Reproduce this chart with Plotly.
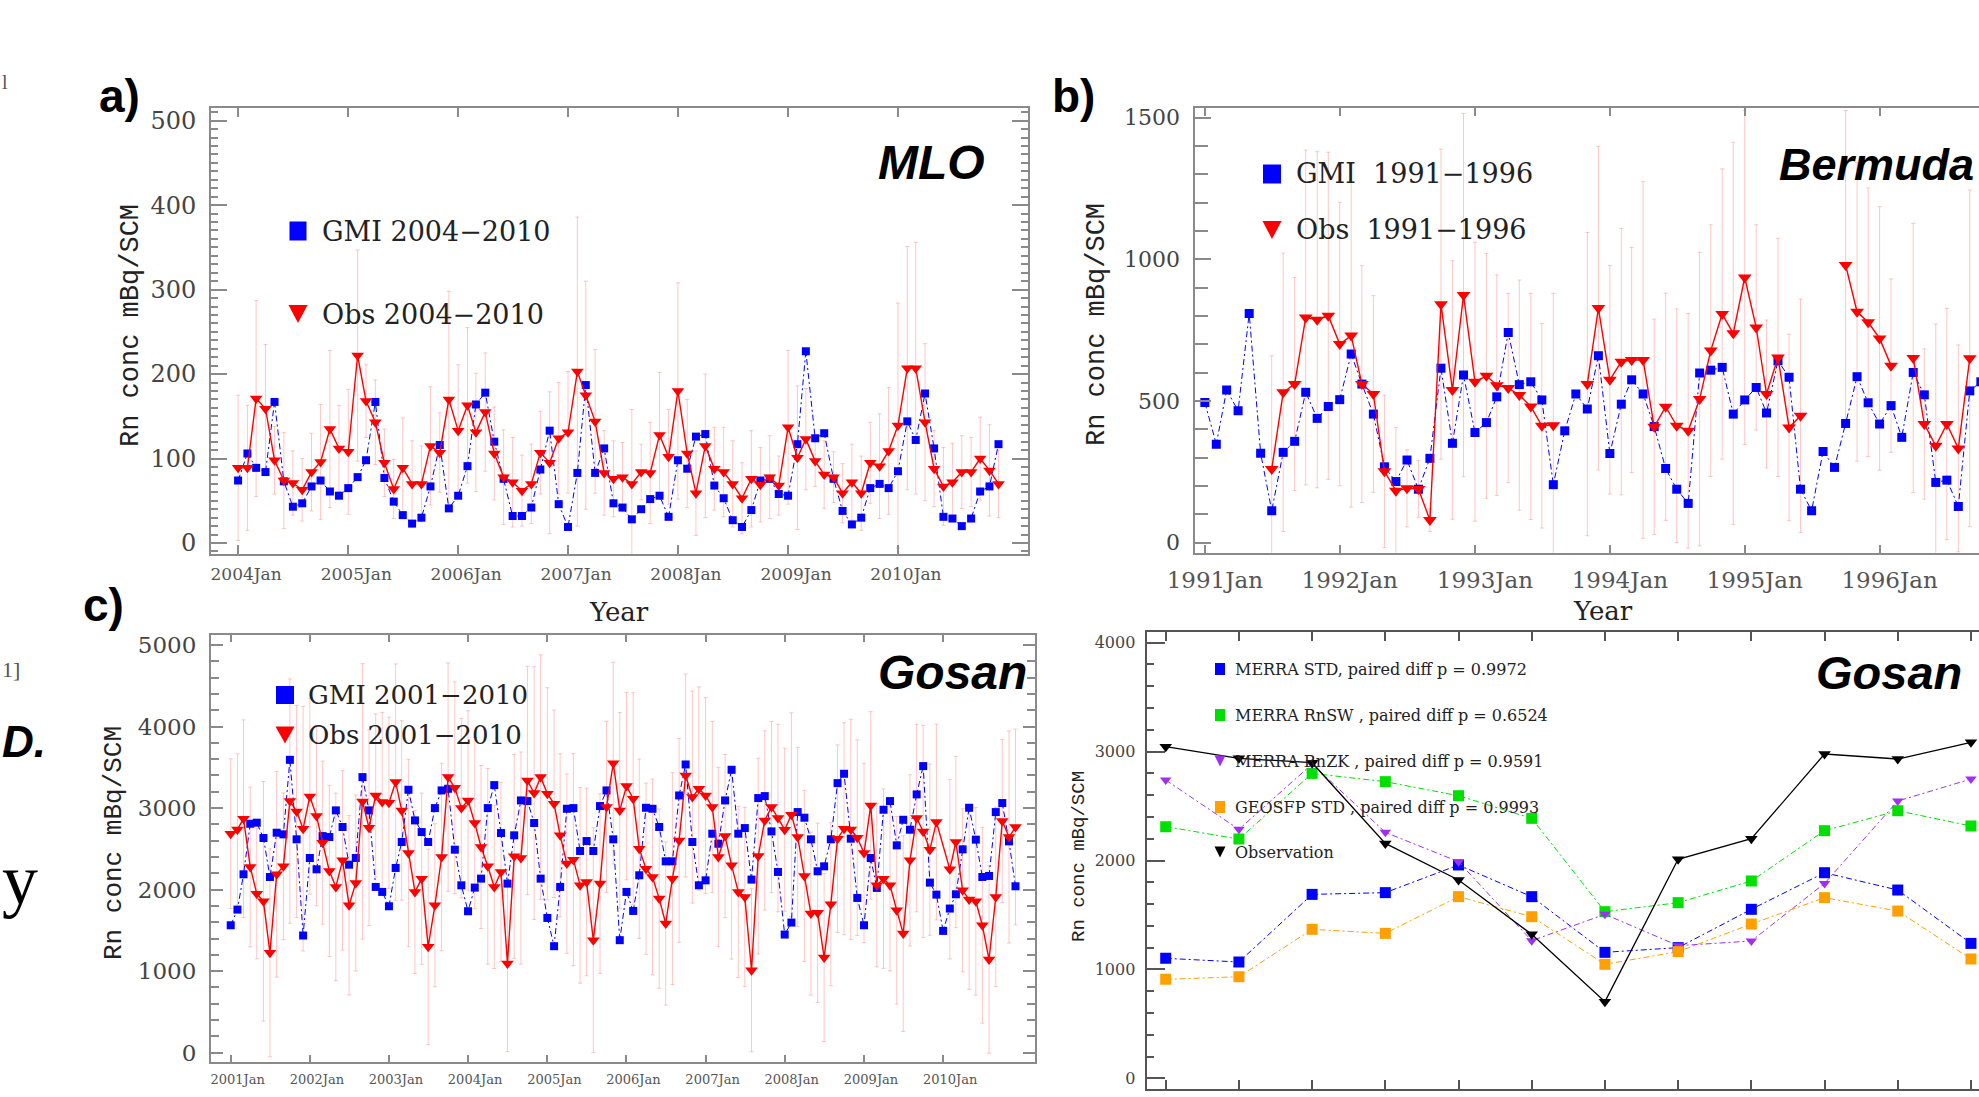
import plotly.graph_objects as go

W, H = 1979, 1097

# ---------------- data ----------------
mlo_months = [f"{y}-{m:02d}-01" for y in range(2004, 2011) for m in range(1, 13)]
mlo_ticks = [f"{y}-01-01" for y in range(2004, 2011)]
mlo_ticktext = [f"{y}Jan" for y in range(2004, 2011)]
mlo_gmi = [74, 106, 89, 84, 167, 73, 43, 47, 67, 74, 61, 56,
           65, 78, 98, 167, 77, 49, 33, 23, 30, 67, 116, 41,
           56, 91, 164, 178, 120, 76, 32, 32, 42, 87, 133, 46,
           19, 83, 187, 83, 112, 47, 42, 28, 40, 52, 56, 31,
           98, 88, 126, 129, 68, 53, 27, 19, 39, 74, 76, 58,
           56, 117, 227, 124, 130, 76, 38, 22, 30, 65, 70, 65,
           85, 144, 122, 177, 112, 31, 29, 20, 29, 61, 67, 117]
mlo_obs = [89, 89, 171, 159, 98, 74, 71, 63, 84, 96, 135, 112,
           108, 222, 168, 143, 95, 64, 89, 70, 70, 115, 107, 170,
           133, 163, 131, 155, 106, 78, 72, 62, 70, 107, 95, 124,
           131, 203, 175, 144, 83, 76, 78, 70, 84, 83, 128, 102,
           180, 106, 59, 115, 88, 84, 70, 53, 76, 69, 78, 68,
           137, 101, 123, 97, 81, 78, 59, 72, 59, 95, 91, 109,
           139, 207, 207, 143, 88, 67, 72, 84, 84, 100, 86, 70]
mlo_err = [86, 74, 116, 76, 40, 57, 38, 37, 46, 68, 93, 51,
           74, 125, 43, 50, 40, 35, 59, 51, 45, 70, 47, 128,
           78, 92, 70, 70, 55, 56, 53, 42, 47, 49, 84, 66,
           72, 183, 135, 85, 50, 45, 41, 88, 33, 60, 74, 56,
           128, 64, 50, 85, 49, 53, 51, 42, 57, 44, 49, 35,
           91, 85, 60, 30, 40, 30, 35, 45, 44, 48, 62, 75,
           145, 144, 149, 93, 45, 46, 46, 43, 41, 49, 54, 40]

bermuda_months = [f"{y}-{m:02d}-01" for y in range(1991, 1997) for m in range(1, 13)][:70]
bermuda_ticks = [f"{y}-01-01" for y in range(1991, 1997)]
bermuda_ticktext = [f"{y}Jan" for y in range(1991, 1997)]
bermuda_gmi = [495, 348, 539, 466, 809, 316, 113, 319, 358, 531, 439, 481,
               505, 666, 560, 454, 268, 216, 292, 189, 298, 616, 351, 592,
               389, 424, 515, 742, 558, 568, 504, 205, 395, 525, 472, 660,
               315, 489, 575, 525, 410, 262, 189, 139, 599, 609, 619, 454,
               504, 548, 458, 642, 584, 189, 113, 322, 266, 421, 586, 494,
               419, 484, 372, 601, 522, 213, 221, 128, 536, 568]
bermuda_obs = [None, None, None, None, None, None, 260, 531, 560, 795, 787, 801,
               701, 731, 560, 525, 252, 184, 192, 190, 80, 842, 539, 874,
               568, 589, 556, 546, 521, 481, 413, 415, None, None, 560, 828,
               575, 639, 645, 645, 409, 480, 413, 395, 507, 678, 807, 739,
               936, 760, 525, 654, 407, 448, None, None, None, 980, 815, 778,
               721, 625, None, 652, 419, 342, 419, 333, 651, None]
bermuda_err = [0, 0, 0, 0, 0, 0, 400, 491, 376, 591, 593, 577,
               500, 605, 418, 347, 269, 223, 136, 100, 40, 547, 456, 641,
               492, 432, 389, 334, 406, 399, 361, 465, 0, 0, 535, 571,
               403, 470, 397, 629, 380, 401, 412, 414, 518, 444, 512, 674,
               589, 362, 261, 420, 329, 412, 0, 0, 0, 545, 527, 474,
               465, 306, 0, 475, 265, 430, 408, 365, 594, 0]

gosan_months = [f"{y}-{m:02d}-01" for y in range(2001, 2011) for m in range(1, 13)]
gosan_ticks = [f"{y}-01-01" for y in range(2001, 2011)]
gosan_ticktext = [f"{y}Jan" for y in range(2001, 2011)]
gosan_gmi = [1563, 1755, 2188, 2808, 2821, 2633, 2155, 2698, 2678, 3592, 2617, 1437,
             2388, 2249, 2657, 2645, 2972, 2768, 2306, 2388, 3380, 2972, 2033, 1972,
             1796, 2266, 2584, 3225, 2849, 2706, 2584, 3000, 3217, 3237, 2490, 2053,
             1735, 2025, 2135, 3000, 3282, 2694, 2074, 2666, 3094, 3086, 2817, 2135,
             1653, 1306, 2033, 2992, 3000, 2474, 2596, 2474, 3025, 3217, 2617, 1380,
             1972, 1739, 2176, 3004, 2992, 2768, 2347, 2347, 3155, 3535, 2584, 2053,
             2114, 2686, 2563, 3094, 3470, 2686, 2755, 2123, 3123, 3147, 2714, 2217,
             1449, 1596, 2951, 2882, 2617, 2225, 2286, 2617, 3306, 3421, 2625, 1898,
             1563, 2388, 2021, 2980, 3086, 2543, 2857, 2735, 3168, 3515, 2086, 1939,
             1494, 1768, 1943, 2494, 3004, 2613, 2155, 2168, 2951, 3062, 2592, 2041]
gosan_obs = [2686, 2739, 2870, 2278, 1951, 1857, 1225, 2188, 2286, 3086, 2959, 2747,
             3143, 2902, 2576, 2229, 2033, 2359, 1808, 2082, 3082, 2759, 3155, 3074,
             3066, 3319, 2972, 2449, 1972, 2135, 1298, 1808, 2400, 3380, 3249, 3000,
             3094, 2817, 2523, 2286, 2033, 2217, 1094, 2408, 2388, 3339, 3184, 3380,
             3176, 3053, 2666, 2319, 2368, 2053, 2094, 1380, 2074, 3013, 3551, 2972,
             3270, 3115, 2502, 2257, 2155, 1890, 1584, 2135, 2604, 3400, 3135, 3237,
             3155, 3013, 2400, 2657, 2298, 1972, 1910, 1012, 2412, 2849, 3013, 2878,
             2735, 2919, 2645, 2168, 1706, 1715, 1167, 1821, 2625, 2747, 2739, 2637,
             2449, 3033, 2053, 2135, 2053, 1747, 1461, 2359, 2878, 2714, 2490, 2829,
             None, 2249, 2584, 1992, 1878, 1857, 1563, 1143, 1910, 2841, 2645, 2768]
gosan_err = [918, 927, 1212, 979, 800, 1470, 1275, 1261, 900, 1498, 1300, 1500,
             1200, 1100, 1000, 1050, 1150, 1100, 1100, 1080, 1690, 1200, 1000, 1100,
             1050, 1449, 1100, 1150, 1000, 1050, 1200, 1000, 1150, 1400, 1300, 1100,
             1100, 1050, 1000, 1200, 1000, 1100, 1080, 1250, 1300, 1400, 1550, 1500,
             1300, 1150, 1000, 1100, 1300, 1200, 1150, 1380, 1100, 1050, 1237, 1200,
             1150, 1300, 1100, 1050, 1200, 1100, 1000, 1300, 1250, 1245, 1300, 1250,
             1200, 1050, 1100, 1000, 1150, 1050, 1100, 1000, 1200, 1100, 1050, 1150,
             1000, 1250, 1100, 1050, 1000, 1100, 1030, 1000, 1150, 1300, 1350, 1200,
             1100, 1150, 1000, 1100, 1050, 1150, 1200, 1050, 1150, 1300, 1050, 1200,
             0, 1100, 1050, 1000, 1100, 1150, 1200, 1150, 1100, 1000, 1300, 1200]

clim_months = [1, 2, 3, 4, 5, 6, 7, 8, 9, 10, 11, 12]
merra_std = [1102, 1068, 1689, 1705, 1959, 1668, 1157, 1200, 1552, 1888, 1729, 1239]
merra_rnsw = [2311, 2197, 2800, 2724, 2595, 2387, 1530, 1613, 1812, 2274, 2457, 2317]
merra_rnzk = [2739, 2286, 2886, 2259, 1989, 1264, 1506, 1218, 1261, 1790, 2546, 2748]
geosfp_std = [909, 933, 1368, 1331, 1668, 1484, 1047, 1163, 1417, 1659, 1536, 1096]
observation = [3045, 2938, 2898, 2157, 1821, 1322, 704, 2011, 2200, 2978, 2932, 3085]

legend_d = ["MERRA STD, paired diff p = 0.9972",
            "MERRA RnSW , paired diff p = 0.6524",
            "MERRA RnZK , paired diff p = 0.9591",
            "GEOSFP STD , paired diff p = 0.9993",
            "Observation"]


def px(x):
    return x / W


def py(y):
    return 1 - y / H


fig = go.Figure()

ERRC = "rgba(255,120,120,0.42)"
BLUE = "#0000ff"
RED = "#ff0000"
SERIF = "DejaVu Serif"
AXC = "#8a8a8a"
DASHDOT = "6px,3px,2px,3px"


def add_panel(xa, ya, xs, gmi, obs, err, sq, tri, gap):
    xr, yr = "x" + xa, "y" + ya
    fig.add_trace(go.Scatter(x=xs, y=obs, mode="markers", xaxis=xr, yaxis=yr,
                             marker=dict(size=1, opacity=0), showlegend=False,
                             error_y=dict(type="data", array=err, color=ERRC,
                                          thickness=1, width=2)))
    fig.add_trace(go.Scatter(x=xs, y=gmi, mode="lines+markers", xaxis=xr, yaxis=yr,
                             line=dict(color=BLUE, width=1, dash=DASHDOT),
                             marker=dict(symbol="square", size=sq, color=BLUE),
                             showlegend=False))
    fig.add_trace(go.Scatter(x=xs, y=obs, mode="lines+markers", xaxis=xr, yaxis=yr,
                             line=dict(color=RED, width=1.4), connectgaps=gap,
                             marker=dict(symbol="triangle-down", size=tri, color=RED),
                             showlegend=False))


add_panel("", "", mlo_months, mlo_gmi, mlo_obs, mlo_err, 8, 11, False)
add_panel("2", "2", bermuda_months, bermuda_gmi, bermuda_obs, bermuda_err, 9, 12, False)
add_panel("3", "3", gosan_months, gosan_gmi, gosan_obs, gosan_err, 8, 11, True)

d_series = [(merra_std, "#0000ff", "square", 11, DASHDOT, 1),
            (merra_rnsw, "#00e000", "square", 11, DASHDOT, 1),
            (merra_rnzk, "#a030f0", "triangle-down", 10, DASHDOT, 1),
            (geosfp_std, "#ffa000", "square", 11, DASHDOT, 1),
            (observation, "#000000", "triangle-down", 11, "solid", 1.3)]
for vals, col, sym, sz, dash, lw in d_series:
    fig.add_trace(go.Scatter(x=clim_months, y=vals, mode="lines+markers",
                             xaxis="x4", yaxis="y4",
                             line=dict(color=col, width=lw, dash=dash),
                             marker=dict(symbol=sym, size=sz, color=col),
                             showlegend=False))


def xax(dom, rng, tv, tt, fs, standoff, shift, tlen, lc, anchor, typ="date",
        mirror="allticks", show=True):
    return dict(domain=dom, range=rng, tickvals=tv, ticktext=tt, ticks="inside",
                ticklen=tlen, tickwidth=1.5, tickcolor=lc, showline=True, linecolor=lc,
                linewidth=2, mirror=mirror, showgrid=False, zeroline=False, type=typ,
                anchor=anchor, automargin=False,
                tickfont=dict(family=SERIF, size=fs, color="#555"),
                ticklabelstandoff=standoff, ticklabelshift=shift, showticklabels=show)


def yax(dom, rng, dt, mdt, fs, tlen, mlen, lc, anchor, mirror="allticks", standoff=8):
    return dict(domain=dom, range=rng, tick0=0, dtick=dt, ticks="inside", ticklen=tlen,
                tickwidth=1.5, tickcolor=lc, showline=True, linecolor=lc, linewidth=2,
                mirror=mirror, showgrid=False, zeroline=False, anchor=anchor,
                automargin=False,
                minor=dict(dtick=mdt, ticks="inside", ticklen=mlen, tickcolor=lc, showgrid=False),
                tickfont=dict(family=SERIF, size=fs, color="#444"),
                ticklabelstandoff=standoff)


fig.update_layout(
    xaxis=xax([px(211), px(1028)], ["2003-10-03", "2011-03-09"], mlo_ticks, mlo_ticktext,
              17, 4, 8, 9, AXC, "y"),
    yaxis=yax([py(554), py(108)], [-13, 515], 100, 10, 24, 16, 7, AXC, "x"),
    xaxis2=xax([px(1194.5), px(1979)], ["1990-12-04", "1996-09-26"], bermuda_ticks,
               bermuda_ticktext, 23, 6, 10, 8, AXC, "y2"),
    yaxis2=yax([py(552.7), py(108.3)], [-35, 1533], 500, 100, 22, 16, 13, AXC, "x2",
               mirror=False),
    xaxis3=xax([px(211), px(1035)], ["2000-10-02", "2011-03-01"], gosan_ticks, gosan_ticktext,
               13, 4, 7, 7, AXC, "y3"),
    yaxis3=yax([py(1062), py(635)], [-114, 5123], 1000, 200, 23, 12, 8, AXC, "x3"),
    xaxis4=xax([px(1146.6), px(1979)], [0.739, 12.11], clim_months, [""] * 12,
               10, 6, 0, 9, "#555", "y4", typ="linear", show=False),
    yaxis4=yax([py(1089), py(631.7)], [-98, 4101], 1000, 200, 16, 18, 7, "#555", "x4",
               mirror=False, standoff=6),
)

ann = []


def text(x, y, s, size, family=SERIF, color="#222", xanchor="center", angle=0,
         weight="normal", style="normal"):
    ann.append(dict(x=px(x), y=py(y), xref="paper", yref="paper", text=s, showarrow=False,
                    xanchor=xanchor, yanchor="middle", textangle=angle,
                    font=dict(family=family, size=size, color=color, weight=weight, style=style)))


shapes = []


def sq_marker(cx, cy, w, h, col):
    shapes.append(dict(type="rect", xref="paper", yref="paper", x0=px(cx - w / 2),
                       x1=px(cx + w / 2), y0=py(cy + h / 2), y1=py(cy - h / 2),
                       fillcolor=col, line=dict(width=0)))


def tri_marker(cx, cy, w, h, col):
    path = (f"M {px(cx - w / 2)},{py(cy - h / 2)} L {px(cx + w / 2)},{py(cy - h / 2)} "
            f"L {px(cx)},{py(cy + h / 2)} Z")
    shapes.append(dict(type="path", xref="paper", yref="paper", path=path,
                       fillcolor=col, line=dict(width=0)))


# panel labels
text(119, 96, "a)", 46, "Liberation Sans", "#000", weight="bold")
text(1073, 96, "b)", 46, "Liberation Sans", "#000", weight="bold")
text(103, 605, "c)", 46, "Liberation Sans", "#000", weight="bold")
# site names
text(931, 162, "MLO", 48, "Liberation Sans", "#000", weight="bold", style="italic")
text(1976, 164, "Bermuda", 45, "Liberation Sans", "#000", xanchor="right",
     weight="bold", style="italic")
text(952, 672, "Gosan", 48, "Liberation Sans", "#000", weight="bold", style="italic")
text(1889, 672, "Gosan", 47, "Liberation Sans", "#000", weight="bold", style="italic")

# legends a-c
sq_marker(298, 231, 17, 19, BLUE)
tri_marker(298, 314, 19, 18, RED)
text(320, 231, "GMI 2004\u22122010", 27, xanchor="left")
text(320, 314, "Obs 2004\u22122010", 27, xanchor="left")

sq_marker(1272, 174, 18, 19, BLUE)
tri_marker(1272, 230, 19, 18, RED)
text(1294, 174, "GMI  1991\u22121996", 27, xanchor="left")
text(1294, 230, "Obs  1991\u22121996", 27, xanchor="left")

sq_marker(285, 695, 18, 18, BLUE)
tri_marker(285, 735, 19, 17, RED)
text(306, 695, "GMI 2001\u22122010", 26, xanchor="left")
text(306, 735, "Obs 2001\u22122010", 26, xanchor="left")

# legend d
d_rows = [669, 715, 761, 807, 852]
d_cols = ["#0000ff", "#00e000", "#a030f0", "#ffa000", "#000000"]
d_syms = ["sq", "sq", "tri", "sq", "tri"]
for lab, yy, col, sy in zip(legend_d, d_rows, d_cols, d_syms):
    if sy == "sq":
        sq_marker(1220, yy, 10, 12, col)
    else:
        tri_marker(1220, yy, 11, 11, col)
    text(1233, yy, lab, 16, xanchor="left")

# axis titles
ytitle = "Rn conc mBq/SCM"
text(131, 326, ytitle, 27, "Liberation Mono", "#222", angle=-90)
text(1097, 325, ytitle, 27, "Liberation Mono", "#222", angle=-90)
text(114, 843, ytitle, 26, "Liberation Mono", "#222", angle=-90)
text(1079, 857, ytitle, 19, "Liberation Mono", "#222", angle=-90)
text(619, 612, "Year", 26)
text(1603, 611, "Year", 26)

# fragments of surrounding page text at the left edge
text(0, 741, "D.", 44, "Liberation Sans", "#000", xanchor="left", weight="bold", style="italic")
text(0, 880, "y", 72, "Liberation Serif", "#000", xanchor="left")
text(0, 669, "1]", 22, "Liberation Serif", "#555", xanchor="left")
text(0, 82, "l", 20, "Liberation Serif", "#555", xanchor="left")

fig.update_layout(annotations=ann, shapes=shapes, width=W, height=H,
                  margin=dict(l=0, r=0, t=0, b=0, autoexpand=False), paper_bgcolor="white",
                  plot_bgcolor="white", showlegend=False)

fig.write_html("out.html", config={"displayModeBar": False},
               post_script="document.body.style.margin='0';document.body.style.overflow='hidden';")
